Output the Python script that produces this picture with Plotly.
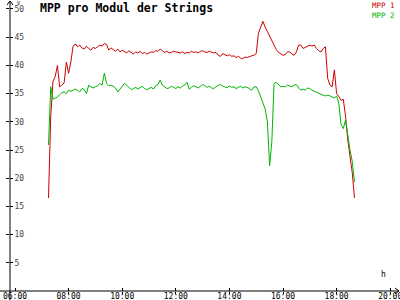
import plotly.graph_objects as go

TITLE = "MPP pro Modul der Strings"
SERIES_NAMES = ["MPP 1", "MPP 2"]
SERIES_COLORS = ["#cc0000", "#00b400"]

HOURS_FULL = [8, 9, 10, 11, 12, 13, 14, 15, 16, 17]
MINUTES = ["00", "05", "10", "15", "20", "25", "30", "35", "40", "45", "50", "55"]
TIMES = ["07:15", "07:20", "07:25", "07:30", "07:35", "07:40", "07:45", "07:50", "07:55"]
for h in HOURS_FULL:
    TIMES += [f"{h:02d}:{m}" for m in MINUTES]
TIMES += ["18:00", "18:05", "18:10", "18:15", "18:20", "18:25", "18:30", "18:35", "18:40"]

MPP1 = [
    16.5, 31.0, 37.2, 38.0, 40.0, 36.2, 36.5, 36.9, 40.6,
    38.6, 40.6, 43.4, 43.8, 43.3, 43.6, 43.1, 42.9, 43.4, 43.0, 42.7, 43.2,
    43.0, 43.3, 43.6, 43.4, 43.9, 43.7, 42.7, 43.1, 42.8, 42.5, 42.9, 42.4,
    42.7, 42.5, 42.2, 42.6, 42.3, 42.0, 42.4, 42.2, 42.5, 42.1, 42.3, 42.0,
    42.2, 42.4, 42.3, 42.6, 42.5, 42.9, 42.6, 42.3, 42.5, 42.2, 42.3, 42.5,
    42.4, 42.3, 42.2, 42.4, 42.1, 42.3, 42.2, 42.5, 42.3, 42.4, 42.2, 42.5,
    42.6, 42.4, 42.3, 42.5, 42.4, 42.2, 42.3, 41.8, 41.6, 42.1, 41.9, 41.7,
    41.9, 41.6, 41.7, 41.4, 41.6, 41.3, 41.2, 41.5, 41.4, 41.6, 41.7, 41.8,
    42.1, 45.7, 46.6, 47.8, 46.8, 46.0, 45.2, 44.4, 43.6, 42.8, 42.3, 42.0,
    41.8, 41.9, 42.4, 42.4, 42.0, 41.8, 42.4, 43.6, 43.6, 43.0, 43.2, 43.3,
    43.6, 43.4, 43.6, 43.0, 42.6, 42.4, 43.0, 43.3, 37.7, 36.5, 36.2, 39.2,
    35.0, 34.5, 33.8, 34.0, 31.0, 26.8, 24.2, 21.0, 16.5,
]
MPP2 = [
    25.9, 36.2, 34.0, 34.2, 34.4, 34.8, 35.2, 35.3, 35.0,
    35.6, 35.4, 35.6, 35.8, 35.6, 35.3, 35.9, 35.7, 35.0, 36.5, 36.2, 36.0,
    36.2, 36.4, 36.8, 36.5, 38.6, 36.8, 36.4, 36.5, 36.3, 36.0, 35.3, 35.8,
    36.2, 36.8, 36.5, 36.0, 35.7, 35.9, 36.1, 35.8, 36.0, 36.3, 35.9, 35.7,
    35.9, 36.1, 35.8, 36.4, 36.6, 37.4, 36.5, 36.2, 35.9, 36.0, 36.3, 36.1,
    35.9, 36.2, 36.0, 36.3, 36.5, 37.0, 35.8, 36.1, 36.4, 36.2, 36.0, 36.3,
    36.6, 36.4, 36.1, 36.3, 36.0, 35.9, 36.2, 36.5, 36.6, 36.3, 36.2, 36.0,
    36.4, 36.1, 36.2, 35.9, 36.1, 36.3, 36.0, 36.2, 36.1, 35.9, 35.6, 36.2,
    36.2, 35.5, 34.3, 33.3, 32.3, 30.0, 22.2, 26.5, 36.8, 37.0, 36.5, 36.2,
    36.3, 36.2, 36.5, 36.4, 36.2, 36.5, 36.6, 36.0, 35.6, 35.8, 35.6, 36.0,
    35.9, 35.6, 35.4, 35.2, 35.0, 34.9, 34.7, 34.6, 34.7, 34.6, 34.4, 34.2,
    34.6, 33.3, 29.5, 28.8, 30.3, 27.5, 25.0, 23.0, 19.3,
]
assert len(TIMES) == len(MPP1) == len(MPP2)

X_TICKS = [6, 8, 10, 12, 14, 16, 18, 20]
X_TICK_LABELS = ["06:00", "08:00", "10:00", "12:00", "14:00", "16:00", "18:00", "20:00"]
Y_TICKS = [5, 10, 15, 20, 25, 30, 35, 40, 45, 50]

hours = [int(t[:2]) + int(t[3:]) / 60 for t in TIMES]

# layout geometry (pixels)
W, H = 400, 300
L, R, T, B = 10, 1, 2, 9
PW, PH = W - L - R, H - T - B
X_RANGE = [5.8134, 20.328]
Y_RANGE = [0, 51.24]


def px(x):
    return (x - L) / PW


def py(y):
    return (H - B - y) / PH


MONO = "DejaVu Sans Mono"

fig = go.Figure()
for name, vals, col in zip(SERIES_NAMES, [MPP1, MPP2], SERIES_COLORS):
    fig.add_trace(go.Scatter(x=hours, y=vals, name=name, mode="lines",
                             line=dict(color=col, width=1), showlegend=False))
fig.add_trace(go.Scatter(x=[None], y=[None], xaxis="x2", yaxis="y2",
                         showlegend=False, hoverinfo="skip"))

axis_common = dict(showgrid=False, zeroline=False, showline=False,
                   tickcolor="black", tickwidth=1, automargin=False)
fig.update_layout(
    width=W, height=H,
    margin=dict(l=L, r=R, t=T, b=B, pad=0, autoexpand=False),
    paper_bgcolor="white", plot_bgcolor="white",
    font=dict(family=MONO, size=8, color="black"),
    title=dict(text="<b>" + TITLE + "</b>", xref="container", yref="container",
               x=40 / W, y=1 - 8 / H, xanchor="left", yanchor="middle",
               font=dict(family=MONO, size=11.5, color="black")),
    xaxis=dict(range=X_RANGE, tickvals=X_TICKS, ticks="outside", ticklen=2,
               showticklabels=False, **axis_common),
    xaxis2=dict(range=X_RANGE, overlaying="x", anchor="y2", side="bottom",
                tickvals=X_TICKS, ticktext=X_TICK_LABELS, ticks="inside", ticklen=3,
                ticklabeloverflow="allow", ticklabelstandoff=-1, **axis_common,
                tickfont=dict(family=MONO, size=8)),
    yaxis=dict(range=Y_RANGE, tickvals=Y_TICKS, ticks="inside", ticklen=3,
               ticklabelposition="inside", **axis_common,
               tickfont=dict(family=MONO, size=8)),
    yaxis2=dict(range=Y_RANGE, overlaying="y", anchor="x2", side="left",
                tickvals=Y_TICKS, ticks="outside", ticklen=3,
                showticklabels=False, **axis_common),
)

# axis lines extending past the origin, with arrows
line_style = dict(color="black", width=1)
fig.add_shape(type="line", xref="paper", yref="paper",
              x0=px(0), x1=px(399), y0=py(291), y1=py(291), line=line_style)
fig.add_shape(type="line", xref="paper", yref="paper",
              x0=px(10), x1=px(10), y0=py(300), y1=py(1), line=line_style)
fig.add_shape(type="path", xref="paper", yref="paper",
              path=f"M {px(7)},{py(5)} L {px(10)},{py(1)} L {px(13)},{py(5)}",
              line=line_style)
fig.add_shape(type="path", xref="paper", yref="paper",
              path=f"M {px(395)},{py(288)} L {px(399)},{py(291)} L {px(395)},{py(294)}",
              line=line_style)

fig.add_annotation(text="V", xref="paper", yref="paper", x=px(18), y=py(2.5),
                   xanchor="center", yanchor="middle", borderpad=0,
                   showarrow=False, font=dict(family=MONO, size=5, color="black"))
fig.add_annotation(text="h", xref="paper", yref="paper", x=px(387.5), y=py(281),
                   showarrow=False, font=dict(family=MONO, size=8, color="black"))
legend_text = "<br>".join(
    f'<span style="color:{col}">{name}</span>'
    for name, col in zip(SERIES_NAMES, SERIES_COLORS))
fig.add_annotation(text=legend_text, xref="paper", yref="paper",
                   x=px(396), y=py(0), xanchor="right", yanchor="top", align="left",
                   borderpad=0, showarrow=False,
                   font=dict(family=MONO, size=7.5, color="black"))

fig.write_html("out.html")
